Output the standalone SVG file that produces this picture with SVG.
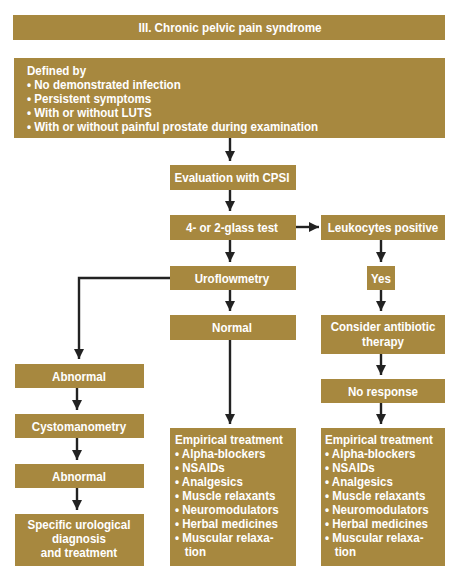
<svg xmlns="http://www.w3.org/2000/svg" width="459" height="580" viewBox="0 0 459 580">
<defs>
<style>
.b{fill:#A7883F}
.t{font-family:"Liberation Sans",Arial,sans-serif;font-weight:bold;font-size:13px;fill:#ffffff}
.c{text-anchor:middle}
.l{stroke:#222;stroke-width:2.4;fill:none;marker-end:url(#ah)}
</style>
<marker id="ah" markerUnits="userSpaceOnUse" markerWidth="10" markerHeight="10" refX="10" refY="5" orient="auto"><path d="M0,0 L10,5 L0,10 z" fill="#222"/></marker>
</defs>
<rect width="459" height="580" fill="#fff"/>
<g id="title"><rect class="b" x="13" y="15" width="432" height="25"/><g transform="translate(230,32) scale(0.9,1)"><text class="t c" x="0" y="0">III. Chronic pelvic pain syndrome</text></g></g>
<g id="defined"><rect class="b" x="14" y="58" width="431" height="80"/>
<g transform="translate(27,0) scale(0.89,1)" class="t">
<text x="0" y="75">Defined by</text>
<text x="0" y="89">• No demonstrated infection</text>
<text x="0" y="103">• Persistent symptoms</text>
<text x="0" y="117">• With or without LUTS</text>
<text x="0" y="131">• With or without painful prostate during examination</text>
</g></g>
<g id="cpsi"><rect class="b" x="170" y="165" width="126" height="25"/><g transform="translate(232,182) scale(0.89,1)"><text class="t c" x="0" y="0">Evaluation with CPSI</text></g></g>
<g id="glass"><rect class="b" x="170" y="215" width="126" height="25"/><g transform="translate(232,232) scale(0.89,1)"><text class="t c" x="0" y="0">4- or 2-glass test</text></g></g>
<g id="leuko"><rect class="b" x="321" y="215" width="124" height="25"/><g transform="translate(383,232) scale(0.89,1)"><text class="t c" x="0" y="0">Leukocytes positive</text></g></g>
<g id="uroflow"><rect class="b" x="170" y="266" width="126" height="24"/><g transform="translate(232,283) scale(0.89,1)"><text class="t c" x="0" y="0">Uroflowmetry</text></g></g>
<g id="yes"><rect class="b" x="367" y="266" width="28" height="24"/><g transform="translate(381,283) scale(0.89,1)"><text class="t c" x="0" y="0">Yes</text></g></g>
<g id="normal"><rect class="b" x="170" y="315" width="126" height="25"/><g transform="translate(232,332) scale(0.89,1)"><text class="t c" x="0" y="0">Normal</text></g></g>
<g id="antibiotic"><rect class="b" x="321" y="315" width="124" height="39"/><g transform="translate(383,0) scale(0.89,1)"><text class="t c" x="0" y="331">Consider antibiotic</text><text class="t c" x="0" y="346">therapy</text></g></g>
<g id="noresponse"><rect class="b" x="321" y="379" width="124" height="24"/><g transform="translate(383,396) scale(0.89,1)"><text class="t c" x="0" y="0">No response</text></g></g>
<g id="abnormal1"><rect class="b" x="15" y="364" width="129" height="24"/><g transform="translate(79,381) scale(0.89,1)"><text class="t c" x="0" y="0">Abnormal</text></g></g>
<g id="cysto"><rect class="b" x="15" y="414" width="129" height="24"/><g transform="translate(79,431) scale(0.89,1)"><text class="t c" x="0" y="0">Cystomanometry</text></g></g>
<g id="abnormal2"><rect class="b" x="15" y="464" width="129" height="24"/><g transform="translate(79,481) scale(0.89,1)"><text class="t c" x="0" y="0">Abnormal</text></g></g>
<g id="specific"><rect class="b" x="15" y="514" width="129" height="52"/><g transform="translate(79,0) scale(0.89,1)"><text class="t c" x="0" y="529">Specific urological</text><text class="t c" x="0" y="543">diagnosis</text><text class="t c" x="0" y="557">and treatment</text></g></g>
<g id="empirical1"><rect class="b" x="170" y="428" width="126" height="138"/>
<g transform="translate(175,0) scale(0.89,1)" class="t">
<text x="0" y="444">Empirical treatment</text>
<text x="0" y="458">• Alpha-blockers</text>
<text x="0" y="472">• NSAIDs</text>
<text x="0" y="486">• Analgesics</text>
<text x="0" y="500">• Muscle relaxants</text>
<text x="0" y="514">• Neuromodulators</text>
<text x="0" y="528">• Herbal medicines</text>
<text x="0" y="542">• Muscular relaxa-</text>
<text x="11" y="556">tion</text>
</g></g>
<g id="empirical2"><rect class="b" x="321" y="428" width="124" height="138"/>
<g transform="translate(325,0) scale(0.89,1)" class="t">
<text x="0" y="444">Empirical treatment</text>
<text x="0" y="458">• Alpha-blockers</text>
<text x="0" y="472">• NSAIDs</text>
<text x="0" y="486">• Analgesics</text>
<text x="0" y="500">• Muscle relaxants</text>
<text x="0" y="514">• Neuromodulators</text>
<text x="0" y="528">• Herbal medicines</text>
<text x="0" y="542">• Muscular relaxa-</text>
<text x="11" y="556">tion</text>
</g></g>
<g id="connectors">
<path class="l" d="M230,138 V161"/>
<path class="l" d="M230,190 V211"/>
<path class="l" d="M230,240 V262"/>
<path class="l" d="M296,227 H319"/>
<path class="l" d="M381,240 V262"/>
<path class="l" d="M230,290 V311"/>
<path class="l" d="M381,290 V311"/>
<path class="l" d="M230,340 V424"/>
<path class="l" d="M381,354 V375"/>
<path class="l" d="M381,403 V424"/>
<path class="l" d="M170,278 H79 V359"/>
<path class="l" d="M77,388 V410"/>
<path class="l" d="M77,438 V460"/>
<path class="l" d="M77,488 V510"/>
</g>
</svg>
